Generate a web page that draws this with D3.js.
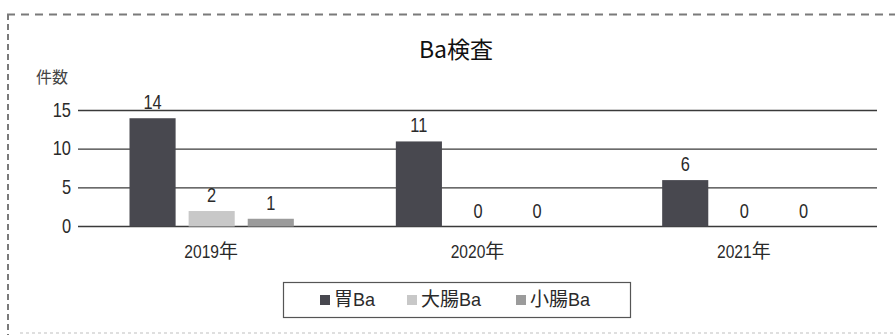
<!DOCTYPE html>
<html>
<head>
<meta charset="utf-8">
<script src="https://cdn.jsdelivr.net/npm/d3@7"></script>
<style>
  html, body { margin: 0; padding: 0; background: #fff; }
  svg { display: block; }
  text { fill: #2a2a2a; }
</style>
</head>
<body>
<svg id="chart" width="895" height="335"></svg>
<script>
// Ba検査 の件数（年別・部位別）
const years = ["2019年", "2020年", "2021年"];
const seriesNames = ["胃Ba", "大腸Ba", "小腸Ba"];
const stomach = [14, 11, 6];
const colon = [2, 0, 0];
const smallIntestine = [1, 0, 0];
const yTicks = [0, 5, 10, 15];
const seriesColors = ["#48484f", "#c8c8c8", "#9b9b9b"];

const seriesValues = [stomach, colon, smallIntestine];
const rows = years.map((year, i) => ({
  year,
  values: seriesNames.map((name, s) => ({ name, s, value: seriesValues[s][i] }))
}));

const latinFont = '"Liberation Sans", Arial, sans-serif';
const cjkFont = '"Noto Sans CJK JP", "Liberation Sans", sans-serif';
const NARROW = 0.82; // digits are drawn in a condensed style

const svg = d3.select("#chart");

// Draws a label whose ASCII runs are condensed and whose CJK runs are normal width.
function mixedText(parent, str, x, y, anchor, size, opts = {}) {
  const narrow = opts.narrow === undefined ? NARROW : opts.narrow;
  const g = parent.append("g").attr("transform", `translate(${x},${y})`);
  const runs = str.match(/[\x00-\x7f]+|[^\x00-\x7f]+/g) || [];
  let cursor = 0;
  const pieces = [];
  runs.forEach(run => {
    const ascii = /^[\x00-\x7f]+$/.test(run);
    const sx = ascii ? narrow : 1;
    const t = g.append("text")
      .style("font-family", ascii ? latinFont : cjkFont)
      .style("font-size", size + "px")
      .text(run);
    if (opts.fill) t.style("fill", opts.fill);
    const w = t.node().getComputedTextLength() * sx;
    pieces.push({ t, sx, at: cursor });
    cursor += w;
  });
  const shift = anchor === "middle" ? -cursor / 2 : anchor === "end" ? -cursor : 0;
  pieces.forEach(p => p.t.attr("transform", `translate(${p.at + shift},0) scale(${p.sx},1)`));
  return g;
}

// dashed frame
svg.append("line").attr("x1", 7).attr("x2", 895).attr("y1", 14.5).attr("y2", 14.5)
  .attr("stroke", "#7a7a7a").attr("stroke-width", 2).attr("stroke-dasharray", "8,6");
svg.append("line").attr("x1", 8).attr("x2", 8).attr("y1", 14).attr("y2", 335)
  .attr("stroke", "#7a7a7a").attr("stroke-width", 2).attr("stroke-dasharray", "6,4");
svg.append("line").attr("x1", 20).attr("x2", 895).attr("y1", 333).attr("y2", 333)
  .attr("stroke", "#d5d5d5").attr("stroke-width", 1.5).attr("stroke-dasharray", "3,3");

const plotLeft = 78, plotRight = 877;
const x0 = d3.scaleBand().domain(years).range([plotLeft, plotRight]).paddingInner(0).paddingOuter(0);
const bw = x0.bandwidth();
const x1 = d3.scaleBand().domain(seriesNames).range([51.5, bw - 50.5]).paddingInner(0.22).paddingOuter(0);
const y = d3.scaleLinear().domain([0, 15]).range([226.5, 110.5]);

// title
svg.append("text").attr("x", 456).attr("y", 58).attr("text-anchor", "middle")
  .style("font-family", cjkFont).style("font-size", "23px").style("font-weight", 400)
  .style("fill", "#111").text("Ba検査");

// y-axis unit
svg.append("text").attr("x", 36).attr("y", 83)
  .style("font-family", cjkFont).style("font-size", "16px").style("fill", "#444").text("件数");

// gridlines and tick labels
const grid = svg.append("g");
grid.selectAll("line").data(yTicks).join("line")
  .attr("x1", plotLeft).attr("x2", plotRight)
  .attr("y1", d => y(d)).attr("y2", d => y(d))
  .attr("stroke", "#3a3a3a").attr("stroke-width", 1.4);
yTicks.forEach(t => mixedText(grid, String(t), 71, y(t) + 6, "end", 20));

// bars
const groups = svg.append("g").selectAll("g").data(rows).join("g")
  .attr("transform", d => `translate(${x0(d.year)},0)`);
groups.selectAll("rect").data(d => d.values).join("rect")
  .attr("x", d => x1(d.name)).attr("width", x1.bandwidth())
  .attr("y", d => y(d.value)).attr("height", d => y(0) - y(d.value))
  .attr("fill", d => seriesColors[d.s]);
groups.each(function (row) {
  const g = d3.select(this);
  row.values.forEach(v => {
    mixedText(g, String(v.value), x1(v.name) + x1.bandwidth() / 2, y(v.value) - 9, "middle", 20);
  });
});

// category labels
const cats = svg.append("g");
years.forEach(yr => mixedText(cats, yr, x0(yr) + bw / 2, 258, "middle", 19));

// legend
const legend = svg.append("g");
legend.append("rect").attr("x", 283.5).attr("y", 282.5).attr("width", 347).attr("height", 35)
  .attr("fill", "#fff").attr("stroke", "#555").attr("stroke-width", 1.2);
const legendX = [320, 407, 516];
seriesNames.forEach((name, i) => {
  legend.append("rect").attr("x", legendX[i]).attr("y", 295).attr("width", 10).attr("height", 10)
    .attr("fill", seriesColors[i]);
  mixedText(legend, name, legendX[i] + 14, 306, "start", 19, { narrow: 0.95 });
});
</script>
</body>
</html>
